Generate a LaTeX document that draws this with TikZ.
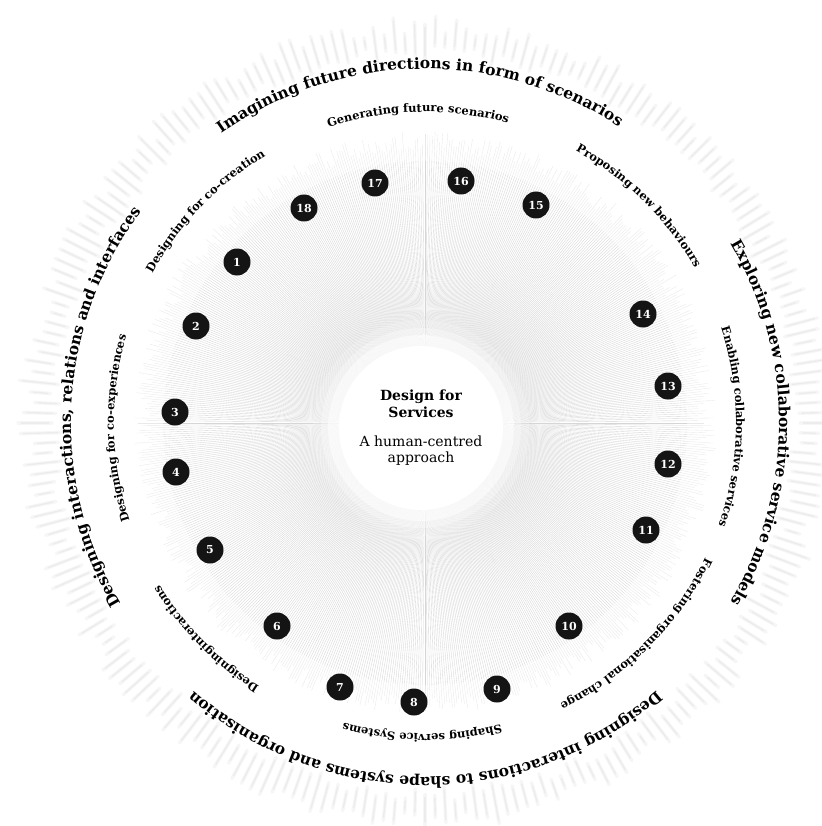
\documentclass[tikz,border=0pt]{standalone}
\usepackage{fontspec}
\setmainfont{DejaVu Serif}
\usetikzlibrary{decorations.text}

% type sizes for the ring captions
\newcommand\ringbig{\fontsize{15.5pt}{18pt}\selectfont\bfseries}
\newcommand\ringsmall{\fontsize{11.5pt}{14pt}\selectfont\bfseries}

% caption set clockwise along a circle round (c):
% #1 middle angle, #2 baseline radius, #3 font, #4 text
\newcommand\ringtext[4]{%
  \path[shift={(c)}, decorate,
        decoration={text along path, text align=center, text={|#3|#4}}]
    ({#1+75}:#2) arc[start angle={#1+75}, end angle={#1-75}, radius=#2];}

\begin{document}
\begin{tikzpicture}[x=1pt, y=1pt,
  ray/.style={draw=gray!32, line width=0.35pt},
  raytip/.style={draw=gray!17, line width=0.35pt},
  haze/.style={draw=gray!7, line width=3.4pt, line cap=round},
  hazecore/.style={draw=gray!15, line width=1.3pt, line cap=round},
  num/.style={circle, fill=black!92, text=white, minimum size=27pt, inner sep=0pt,
              font=\fontsize{11pt}{11pt}\selectfont\bfseries},
  hubdisc/.style={circle, fill=white, minimum size=164pt, inner sep=0pt},
  hubtitle/.style={align=center, font=\fontsize{14pt}{16.5pt}\selectfont\bfseries},
  hubsub/.style={align=center, font=\fontsize{14pt}{16pt}\selectfont}]

\useasboundingbox (0,0) rectangle (821,-826);
\fill[white] (0,0) rectangle (821,-826);
\coordinate (c) at (425,-423);
\pgfmathsetseed{11}

% faint outer band of short radial strokes
\foreach \a in {0,1.5,...,358.5} {
  \pgfmathsetmacro\ra{371+7*rand}
  \pgfmathsetmacro\rb{399+9*rand}
  \draw[haze] ([shift={(c)}]\a:\ra) -- ([shift={(c)}]\a:\rb);
  \draw[hazecore] ([shift={(c)}]\a:\ra+3) -- ([shift={(c)}]\a:\rb-3);
}

% inner sunburst of fine rays
\foreach \a in {0,0.5,...,359.5} {
  \pgfmathsetmacro\re{282+10*rand}
  \draw[ray] ([shift={(c)}]\a:60) -- ([shift={(c)}]\a:262);
  \draw[raytip] ([shift={(c)}]\a:262) -- ([shift={(c)}]\a:\re);
}

% soft white hub
\coordinate (hub) at (421,-428);
\foreach \hr/\ho in {108/0.2, 100/0.35, 93/0.55} {
  \fill[white, opacity=\ho] (hub) circle[radius=\hr];
}
\node[hubdisc] (core) at (hub) {};
\node[hubtitle] (title) at (421,-404) {Design for\\Services};
\node[hubsub] (sub) at (421,-451) {A human-centred\\approach};

% outer ring captions
\ringtext{91}{354}{\ringbig}{Imagining future directions in form of scenarios}
\ringtext{0}{354}{\ringbig}{Exploring new collaborative service models}
\ringtext{-90}{354}{\ringbig}{Designing interactions to shape systems and organisation}
\ringtext{177}{354}{\ringbig}{Designing interactions, relations and interfaces}

% inner ring captions
\ringtext{136}{311}{\ringsmall}{Designing for co-creation}
\ringtext{91.3}{311}{\ringsmall}{Generating future scenarios}
\ringtext{45.4}{311}{\ringsmall}{Proposing new behaviours}
\ringtext{-0.7}{311}{\ringsmall}{Enabling collaborative services}
\ringtext{-45}{311}{\ringsmall}{Fostering organisational change}
\ringtext{-90.5}{311}{\ringsmall}{Shaping service Systems}
\ringtext{224.6}{311}{\ringsmall}{Designinginteractions}
\ringtext{181}{311}{\ringsmall}{Designing for co-experiences}

% numbered markers
\node[num] (n1)  at (237,-262) {1};
\node[num] (n2)  at (196,-326) {2};
\node[num] (n3)  at (175,-412) {3};
\node[num] (n4)  at (176,-472) {4};
\node[num] (n5)  at (210,-550) {5};
\node[num] (n6)  at (277,-626) {6};
\node[num] (n7)  at (340,-687) {7};
\node[num] (n8)  at (414,-702) {8};
\node[num] (n9)  at (497,-689) {9};
\node[num] (n10) at (569,-626) {10};
\node[num] (n11) at (646,-530) {11};
\node[num] (n12) at (668,-464) {12};
\node[num] (n13) at (668,-386) {13};
\node[num] (n14) at (643,-314) {14};
\node[num] (n15) at (536,-205) {15};
\node[num] (n16) at (461,-181) {16};
\node[num] (n17) at (375,-183) {17};
\node[num] (n18) at (304,-208) {18};

\end{tikzpicture}
\end{document}
